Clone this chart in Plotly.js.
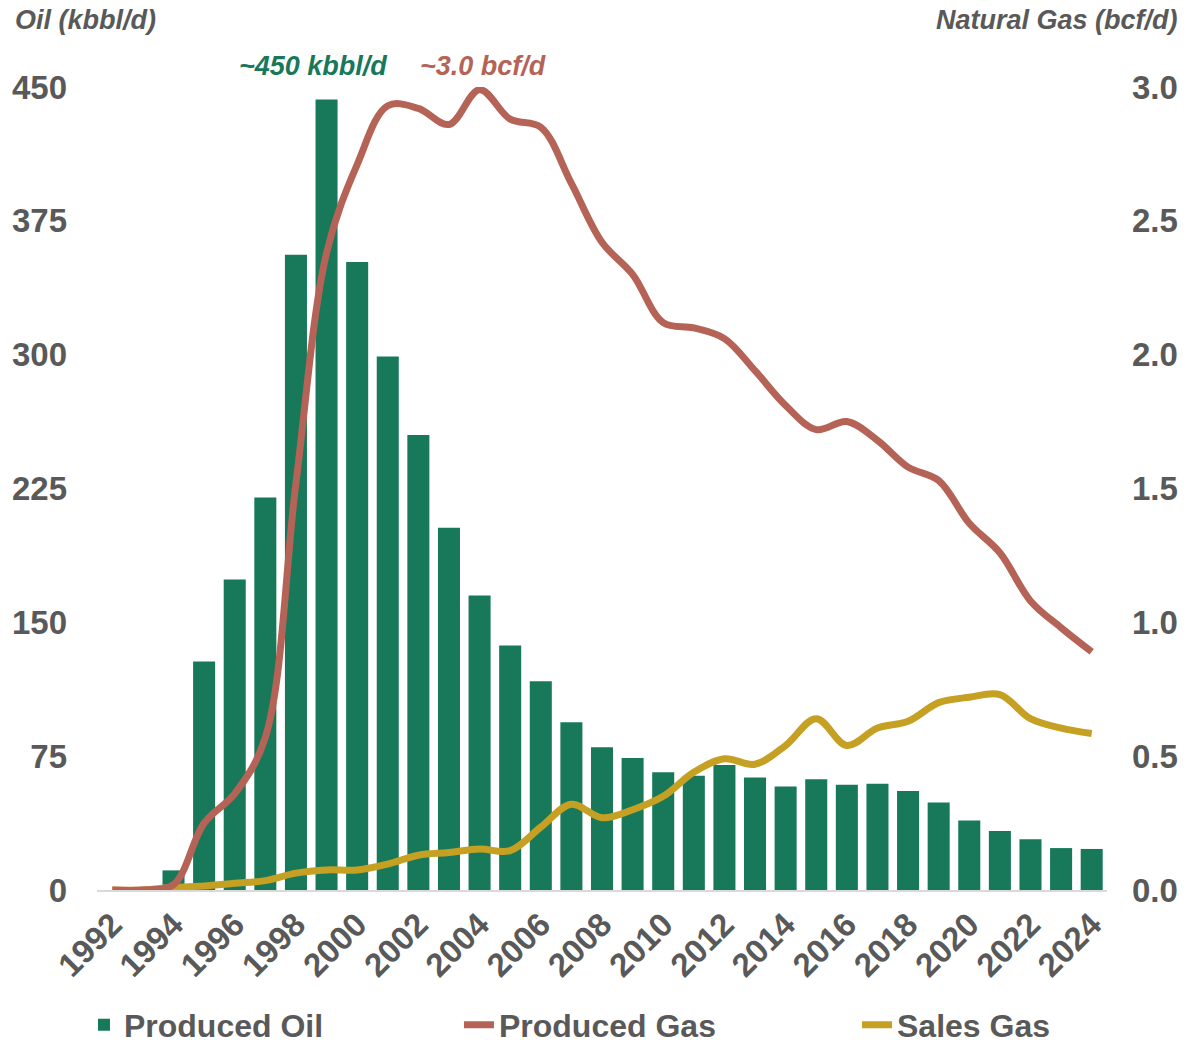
<!DOCTYPE html>
<html>
<head>
<meta charset="utf-8">
<script src="https://cdn.plot.ly/plotly-3.0.1.min.js"></script>
<style>html,body{margin:0;padding:0;background:#fff;}#chart{width:1188px;height:1044px;}</style>
</head>
<body>
<div id="chart"></div>
<script>
const years = [1992,1993,1994,1995,1996,1997,1998,1999,2000,2001,2002,2003,2004,2005,2006,2007,2008,2009,2010,2011,2012,2013,2014,2015,2016,2017,2018,2019,2020,2021,2022,2023,2024];
const producedOil = [0,0,11,128,174,220,356,443,352,299,255,203,165,137,117,94,80,74,66,64,70,63,58,62,59,59.5,55.5,49,39,33,28.5,23.5,23];
const producedGas = [0,0,0.02,0.25,0.36,0.57,1.52,2.38,2.71,2.93,2.92,2.86,2.99,2.88,2.85,2.64,2.42,2.30,2.12,2.10,2.06,1.94,1.81,1.72,1.75,1.68,1.58,1.53,1.37,1.26,1.08,0.98,0.89];
const salesGas = [0,0,0.01,0.015,0.025,0.035,0.063,0.075,0.075,0.097,0.13,0.14,0.153,0.147,0.235,0.32,0.27,0.30,0.35,0.44,0.49,0.47,0.54,0.64,0.54,0.605,0.63,0.70,0.72,0.73,0.64,0.605,0.585];
const xTicks = [1992,1994,1996,1998,2000,2002,2004,2006,2008,2010,2012,2014,2016,2018,2020,2022,2024];
const oilTicks = [0,75,150,225,300,375,450];
const gasTicks = [0,0.5,1.0,1.5,2.0,2.5,3.0];
const gasTickText = ['0.0','0.5','1.0','1.5','2.0','2.5','3.0'];

const GREEN = '#17785A', RED = '#B56357', GOLD = '#C5A023', GREY = '#595959';
const FONT = 'Liberation Sans, Arial, sans-serif';
const TICKFONT = {family:FONT, size:33, color:GREY, weight:'bold'};
const LEGFONT = {family:FONT, size:32, color:GREY, weight:'bold'};

const traces = [
  {type:'bar', x:years, y:producedOil, name:'Produced Oil', marker:{color:GREEN}, legend:'legend', hoverinfo:'skip'},
  {type:'scatter', mode:'lines', x:years, y:salesGas, yaxis:'y2', name:'Sales Gas', line:{color:GOLD, width:7, shape:'spline', smoothing:1}, legend:'legend3', hoverinfo:'skip'},
  {type:'scatter', mode:'lines', x:years, y:producedGas, yaxis:'y2', name:'Produced Gas', line:{color:RED, width:7, shape:'spline', smoothing:1}, legend:'legend2', hoverinfo:'skip'}
];

function leg(x){
  return {orientation:'h', x:x, xanchor:'left', y:-0.168, yanchor:'middle', font:LEGFONT, itemwidth:30, bgcolor:'rgba(0,0,0,0)'};
}

const layout = {
  width:1188, height:1044,
  margin:{l:97, r:81, t:87, b:154, autoexpand:false},
  paper_bgcolor:'#fff', plot_bgcolor:'#fff',
  font:{family:FONT, color:GREY},
  bargap:0.28,
  showlegend:true,
  legend:leg(-0.0129),
  legend2:leg(0.3584),
  legend3:leg(0.7525),
  xaxis:{range:[1991.5,2024.5], tickmode:'array', tickvals:xTicks, ticktext:xTicks.map(String),
         tickangle:-45, tickfont:TICKFONT,
         showgrid:false, zeroline:false, showline:true, linecolor:'#D9D9D9', linewidth:2,
         ticks:'', automargin:false, fixedrange:true},
  yaxis:{range:[0,450], tickmode:'array', tickvals:oilTicks, ticktext:oilTicks.map(String),
         tickfont:TICKFONT,
         showgrid:false, zeroline:false, showline:false, ticks:'', ticklabelstandoff:29, automargin:false, fixedrange:true},
  yaxis2:{range:[0,3], overlaying:'y', side:'right', tickmode:'array', tickvals:gasTicks, ticktext:gasTickText,
         tickfont:TICKFONT,
         showgrid:false, zeroline:false, showline:false, ticks:'', ticklabelstandoff:24, automargin:false, fixedrange:true},
  annotations:[
    {xref:'paper', yref:'paper', x:-0.083, y:1.083, xanchor:'left', yanchor:'middle', showarrow:false,
     text:'<b><i>Oil (kbbl/d)</i></b>', font:{family:FONT, size:27, color:GREY}},
    {xref:'paper', yref:'paper', x:1.072, y:1.083, xanchor:'right', yanchor:'middle', showarrow:false,
     text:'<b><i>Natural Gas (bcf/d)</i></b>', font:{family:FONT, size:27, color:GREY}},
    {xref:'x', yref:'paper', x:1998.57, y:1.026, xanchor:'center', yanchor:'middle', showarrow:false,
     text:'<b><i>~450 kbbl/d</i></b>', font:{family:FONT, size:27, color:GREEN}},
    {xref:'x', yref:'paper', x:2004.12, y:1.026, xanchor:'center', yanchor:'middle', showarrow:false,
     text:'<b><i>~3.0 bcf/d</i></b>', font:{family:FONT, size:27, color:RED}}
  ]
};

Plotly.newPlot('chart', traces, layout, {displayModeBar:false, staticPlot:true});
</script>
</body>
</html>
